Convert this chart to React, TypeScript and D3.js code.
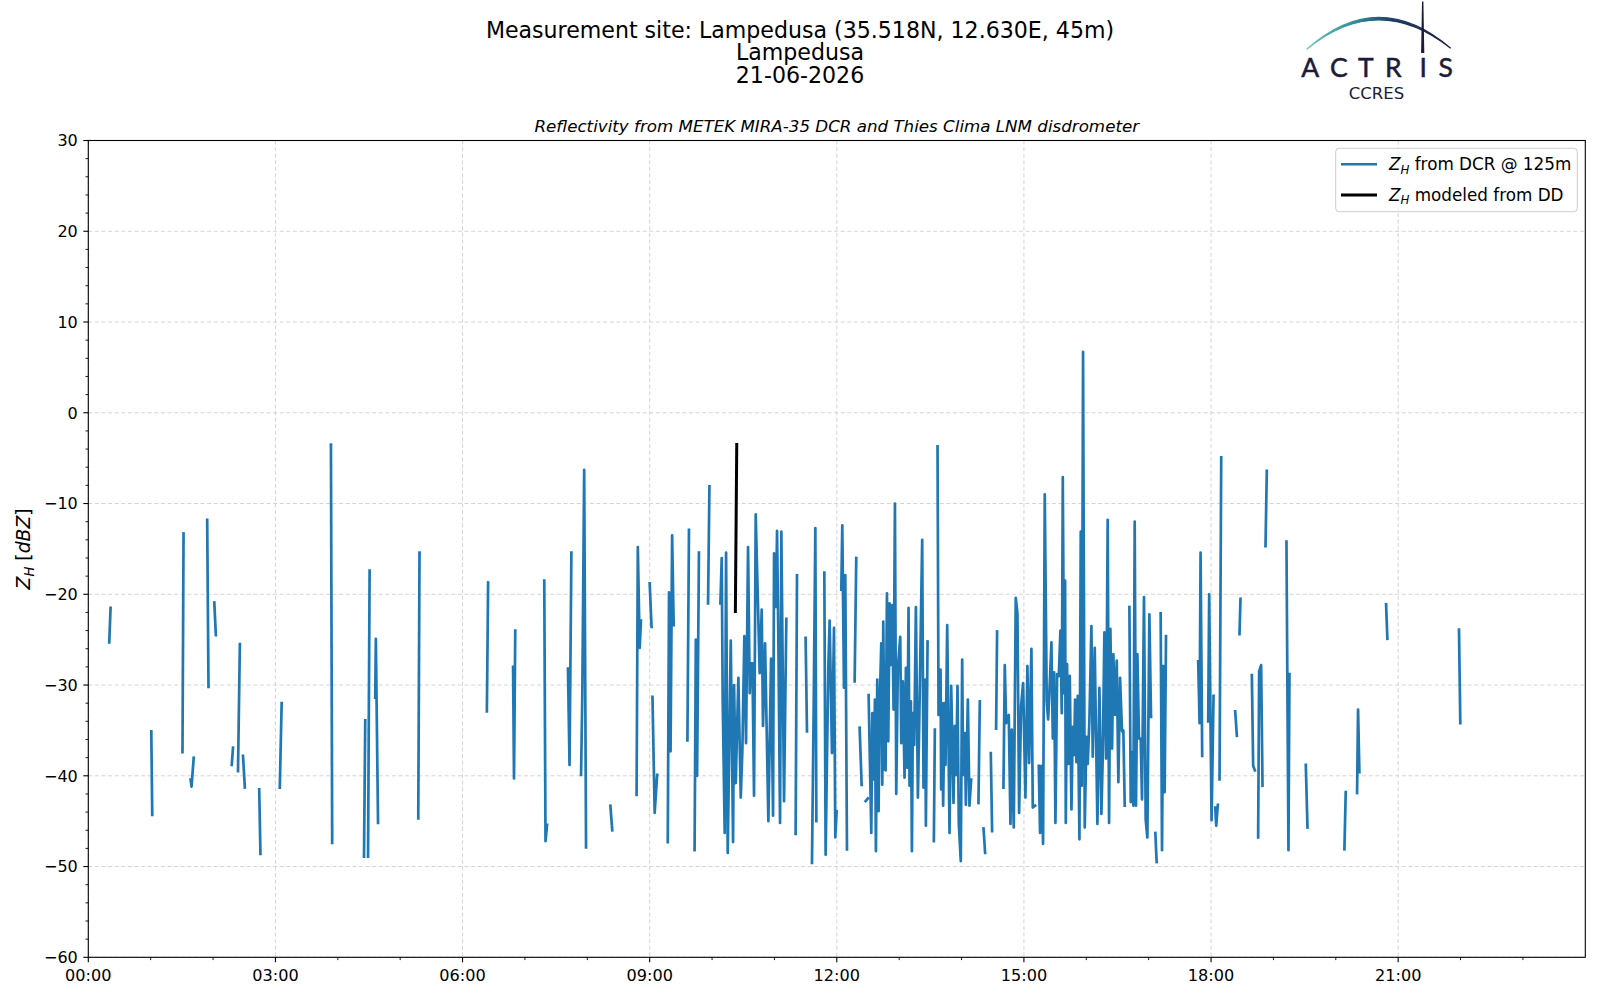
import { useMemo } from "react";
import * as d3 from "d3";

const WIDTH = 1600;
const HEIGHT = 1000;
const MARGIN = { top: 140.5, right: 14.7, bottom: 42.7, left: 88.3 };
const FONT = "DejaVu Sans";
const BLUE = "#1f77b4";
const NAVY = "#1b1b3d";

const TITLE_LINES = [
  "Measurement site: Lampedusa (35.518N, 12.630E, 45m)",
  "Lampedusa",
  "21-06-2026",
];
const SUBTITLE = "Reflectivity from METEK MIRA-35 DCR and Thies Clima LNM disdrometer";

const X_TICK_HOURS = [0, 3, 6, 9, 12, 15, 18, 21];
const Y_DOMAIN: [number, number] = [-60, 30];

type Pt = [number, number]; // [hour of day, Z_H in dBZ]

// radar reflectivity @ 125m, split at each gap in the record
const NIGHT_SEGMENTS: Pt[][] = [
  [[0.336, -25.3], [0.357, -21.5]],
  [[1.01, -35.1], [1.025, -44.3]],
  [[1.51, -37.4], [1.527, -13.3]],
  [[1.64, -40.4], [1.655, -41.2], [1.69, -38.0]],
  [[1.906, -11.8], [1.927, -30.2]],
  [[2.02, -20.9], [2.045, -24.5]],
  [[2.3, -38.8], [2.32, -36.9]],
  [[2.4, -39.5], [2.43, -25.5]],
  [[2.48, -37.8], [2.51, -41.3]],
  [[2.74, -41.5], [2.76, -48.6]],
  [[3.07, -41.3], [3.1, -32.0]],
  [[3.89, -3.5], [3.91, -47.4]],
  [[4.42, -48.9], [4.44, -33.9]],
  [[4.485, -48.9], [4.51, -17.4]],
  [[4.6, -31.4], [4.61, -24.9], [4.645, -45.2]],
];

const MORNING_SEGMENTS: Pt[][] = [
  [[5.29, -44.7], [5.31, -15.4]],
  [[6.39, -32.9], [6.41, -18.7]],
  [[6.81, -28.0], [6.825, -40.3], [6.845, -24.0]],
  [[7.31, -18.5], [7.33, -47.2], [7.355, -45.4]],
  [[7.69, -28.2], [7.715, -38.8], [7.745, -15.4]],
  [[7.9, -39.9], [7.92, -31.1], [7.95, -6.3], [7.98, -47.9]],
  [[8.37, -43.3], [8.4, -46.0]],
  [[8.79, -42.1], [8.81, -14.8], [8.84, -25.9], [8.86, -22.9]],
  [[9.0, -18.8], [9.03, -23.6]],
  [[9.045, -31.3], [9.08, -44.1], [9.12, -39.9]],
  [[9.29, -47.3], [9.31, -19.8], [9.335, -37.3], [9.36, -13.5], [9.385, -23.4]],
  [[9.605, -36.1], [9.63, -12.9]],
  [[9.72, -48.2], [9.74, -25.0], [9.76, -40.0], [9.79, -15.4]],
  [[9.936, -21.0], [9.958, -8.1]],
];

const MIDDAY_SEGMENTS: Pt[][] = [
  [
    [10.134, -21.0], [10.155, -16.0], [10.171, -31.8], [10.203, -46.3], [10.225, -15.4],
    [10.251, -48.5], [10.3, -25.1], [10.337, -47.3], [10.353, -30.0], [10.38, -40.8],
    [10.422, -29.2], [10.46, -42.4], [10.486, -37.2], [10.518, -24.6], [10.545, -36.4],
    [10.577, -14.8], [10.604, -30.9], [10.62, -27.6], [10.647, -27.6], [10.673, -42.2],
    [10.7, -11.2], [10.764, -28.7], [10.796, -21.7], [10.817, -34.5], [10.85, -25.4],
    [10.903, -45.0], [10.946, -27.1], [10.978, -44.4], [10.994, -15.5], [11.026, -21.4],
    [11.042, -13.0], [11.063, -25.0], [11.09, -45.2], [11.111, -13.1], [11.154, -42.8],
    [11.191, -22.7],
  ],
  [[11.34, -46.4], [11.362, -17.9]],
  [[11.5, -24.8], [11.522, -35.1]],
  [[11.602, -49.6], [11.629, -32.7], [11.656, -12.7], [11.672, -45.0]],
  [
    [11.8, -17.6], [11.821, -48.7], [11.842, -38.4], [11.864, -28.1], [11.885, -22.9],
    [11.923, -37.5], [11.955, -23.7], [11.976, -46.8], [11.997, -43.9],
  ],
  [[12.072, -19.5], [12.088, -12.4], [12.115, -30.3], [12.136, -17.9], [12.163, -48.1]],
  [[12.286, -29.6], [12.312, -16.0]],
  [[12.366, -34.7], [12.398, -41.0]],
  [[12.462, -42.8], [12.499, -42.5]],
  [
    [12.51, -31.1], [12.553, -46.3], [12.569, -33.1], [12.595, -40.4], [12.611, -31.6],
    [12.627, -48.3], [12.649, -29.4], [12.67, -43.9], [12.686, -32.7], [12.713, -25.4],
    [12.729, -41.0], [12.745, -23.0], [12.766, -39.3], [12.782, -39.4], [12.804, -19.9],
    [12.825, -36.2], [12.846, -21.0], [12.862, -27.8], [12.889, -21.2], [12.91, -32.7],
    [12.932, -10.0], [12.953, -42.0], [12.979, -28.1], [13.017, -24.7], [13.033, -36.4],
    [13.059, -29.6], [13.086, -40.2], [13.108, -28.1], [13.129, -39.1], [13.15, -21.5],
    [13.166, -41.1], [13.188, -31.8], [13.204, -48.3], [13.22, -33.1], [13.241, -36.6],
    [13.268, -21.4], [13.3, -42.4], [13.321, -34.5], [13.369, -14.0], [13.39, -41.3],
    [13.417, -29.4], [13.428, -45.5], [13.455, -25.2],
  ],
  [[13.556, -47.2], [13.572, -34.9]],
  [
    [13.615, -3.7], [13.631, -33.3], [13.663, -28.3], [13.673, -41.5], [13.689, -32.0],
    [13.705, -43.3], [13.727, -32.0], [13.743, -38.8], [13.77, -23.4], [13.807, -46.3],
    [13.834, -30.1], [13.855, -37.5], [13.871, -43.0], [13.892, -34.5], [13.914, -39.9],
    [13.935, -30.1], [13.956, -45.3], [13.988, -49.4], [14.01, -27.2], [14.026, -39.9],
    [14.053, -35.3], [14.069, -43.2], [14.101, -31.6], [14.127, -43.3], [14.154, -40.4],
  ],
  [[14.271, -43.0], [14.293, -31.8]],
  [[14.352, -45.8], [14.378, -48.5]],
  [[14.469, -37.5], [14.49, -46.1]],
  [[14.554, -34.8], [14.57, -24.1]],
];

const AFTERNOON_SEGMENTS: Pt[][] = [
  [
    [14.672, -41.3], [14.693, -27.8], [14.715, -34.2], [14.757, -33.3], [14.784, -45.3],
    [14.805, -34.9], [14.837, -45.7], [14.869, -20.4], [14.896, -22.1], [14.923, -44.1],
    [14.955, -32.3], [14.987, -29.8], [15.024, -42.4], [15.056, -27.9], [15.083, -38.6],
    [15.12, -26.0], [15.142, -43.5], [15.179, -43.3],
  ],
  [
    [15.238, -38.9], [15.259, -46.3], [15.281, -38.9], [15.307, -47.5], [15.334, -9.0],
    [15.366, -31.8], [15.388, -33.8], [15.409, -30.7], [15.441, -25.3], [15.463, -35.9],
    [15.484, -28.6], [15.505, -45.2], [15.532, -28.8], [15.559, -29.0], [15.585, -24.0],
    [15.607, -33.1], [15.623, -7.1], [15.644, -30.9], [15.66, -18.5], [15.671, -45.2],
    [15.692, -27.7], [15.713, -38.7], [15.735, -29.0], [15.762, -43.7], [15.783, -34.6],
    [15.804, -37.7], [15.82, -31.6], [15.842, -38.5], [15.863, -31.2], [15.89, -47.0],
    [15.911, -13.1], [15.927, -41.1], [15.948, 6.7], [15.975, -45.7], [16.002, -35.7],
    [16.023, -38.7], [16.05, -33.8], [16.082, -23.5], [16.103, -37.9], [16.135, -25.9],
    [16.157, -35.9], [16.178, -45.3], [16.21, -30.3], [16.242, -44.2], [16.263, -38.1],
    [16.29, -24.2], [16.317, -38.1], [16.343, -11.8], [16.365, -45.2], [16.386, -23.8],
    [16.413, -37.0], [16.434, -26.6], [16.461, -33.3], [16.488, -27.3], [16.514, -40.7],
    [16.541, -29.2], [16.573, -35.1], [16.594, -35.0], [16.616, -43.3],
  ],
  [
    [16.691, -21.4], [16.712, -42.9], [16.728, -37.4], [16.755, -43.3], [16.776, -12.0],
    [16.797, -43.3], [16.819, -26.6], [16.845, -35.9], [16.872, -35.9], [16.893, -42.6],
    [16.925, -20.3], [16.952, -44.8], [16.979, -46.8], [17.011, -22.2], [17.038, -33.5],
  ],
  [[17.107, -46.3], [17.128, -49.5]],
  [[17.192, -22.1], [17.214, -48.2], [17.235, -27.9], [17.256, -41.8], [17.278, -24.6]],
];

const EVENING_SEGMENTS: Pt[][] = [
  [[17.794, -27.4], [17.816, -34.2], [17.832, -15.4], [17.858, -37.8]],
  [[17.954, -34.0], [17.97, -20.0], [18.008, -44.9], [18.04, -31.2]],
  [[18.067, -43.5], [18.083, -45.5], [18.109, -43.2]],
  [[18.136, -40.4], [18.163, -4.9]],
  [[18.387, -32.9], [18.414, -35.6]],
  [[18.456, -24.4], [18.472, -20.5]],
  [[18.654, -28.9], [18.675, -38.9], [18.702, -39.4]],
  [[18.755, -46.8], [18.771, -28.5], [18.803, -27.8], [18.825, -41.1]],
  [[18.873, -14.7], [18.894, -6.4]],
  [[19.209, -14.2], [19.241, -48.2], [19.257, -28.8]],
  [[19.519, -38.8], [19.546, -45.7]],
  [[20.138, -48.1], [20.159, -41.8]],
  [[20.341, -41.9], [20.357, -32.7], [20.378, -39.6]],
  [[20.806, -21.1], [20.827, -24.9]],
  [[21.975, -23.9], [21.996, -34.2]],
];

// reflectivity modeled from the disdrometer drop size distribution
const DD_SEGMENTS: Pt[][] = [[[10.374, -21.9], [10.396, -3.5]]];

const DCR_SEGMENTS = [
  ...NIGHT_SEGMENTS,
  ...MORNING_SEGMENTS,
  ...MIDDAY_SEGMENTS,
  ...AFTERNOON_SEGMENTS,
  ...EVENING_SEGMENTS,
];

const pad = (n: number) => String(n).padStart(2, "0");

const ZH = ({ x, y, rest }: { x: number; y: number; rest: string }) => (
  <text x={x} y={y} fontFamily={FONT} fontSize={16.8} fill="#000">
    <tspan fontStyle="italic">Z</tspan>
    <tspan fontStyle="italic" fontSize={11.8} dy={3.5}>
      H
    </tspan>
    <tspan dy={-3.5}>{rest}</tspan>
  </text>
);

const Logo = () => (
  <g>
    <defs>
      <linearGradient id="arcGrad" x1="1306" y1="0" x2="1451" y2="0" gradientUnits="userSpaceOnUse">
        <stop offset="0" stopColor="#6cc3bd" />
        <stop offset="0.35" stopColor="#2e8b98" />
        <stop offset="0.6" stopColor="#1d3c63" />
        <stop offset="1" stopColor={NAVY} />
      </linearGradient>
    </defs>
    <path
      d="M1306.7,49.3 Q1378,-14 1450.7,48.3 Q1378,-9 1306.7,49.3 Z"
      fill="url(#arcGrad)"
      stroke="url(#arcGrad)"
      strokeWidth={1.2}
    />
    <polygon points="1422,1.5 1423.4,1.5 1424.3,53 1421.1,53" fill={NAVY} />
    {[
      ["A", 1310.2],
      ["C", 1338.8],
      ["T", 1365.9],
      ["R", 1393.4],
      ["I", 1423.3],
      ["S", 1445.7],
    ].map(([ch, cx]) => (
      <text
        key={ch as string}
        x={cx as number}
        y={76.5}
        textAnchor="middle"
        fontFamily="Lato"
        fontSize={26.5}
        fill={NAVY}
        stroke={NAVY}
        strokeWidth={0.5}
      >
        {ch}
      </text>
    ))}
    <text x={1376.5} y={99.3} textAnchor="middle" fontFamily={FONT} fontSize={16.5} fill={NAVY}>
      CCRES
    </text>
  </g>
);

export default function App() {
  const boundsWidth = WIDTH - MARGIN.left - MARGIN.right;
  const boundsHeight = HEIGHT - MARGIN.top - MARGIN.bottom;

  const xScale = useMemo(
    () => d3.scaleLinear().domain([0, 24]).range([0, boundsWidth]),
    [boundsWidth]
  );
  const yScale = useMemo(
    () => d3.scaleLinear().domain(Y_DOMAIN).range([boundsHeight, 0]),
    [boundsHeight]
  );

  const line = d3
    .line<Pt>()
    .x((d) => xScale(d[0]))
    .y((d) => yScale(d[1]));

  const yTicks = yScale.ticks(9);
  const yMinor = d3.range(-60, 30.1, 2).filter((v) => v % 10 !== 0);
  const xMinor = d3.range(0, 25).filter((h) => h % 3 !== 0);
  const fmt = d3.format("d");

  return (
    <svg
      width={WIDTH}
      height={HEIGHT}
      style={{ position: "absolute", left: 0, top: 0, background: "#fff" }}
    >
      <rect width={WIDTH} height={HEIGHT} fill="#fff" />

      {TITLE_LINES.map((t, i) => (
        <text
          key={t}
          x={800}
          y={37.5 + i * 22.5}
          textAnchor="middle"
          fontFamily={FONT}
          fontSize={22.1}
          fill="#000"
        >
          {t}
        </text>
      ))}
      <Logo />

      <g transform={`translate(${MARGIN.left},${MARGIN.top})`}>
        <text
          x={boundsWidth / 2}
          y={-9}
          textAnchor="middle"
          fontFamily={FONT}
          fontStyle="italic"
          fontSize={16.7}
          fill="#000"
        >
          {SUBTITLE}
        </text>

        {/* grid */}
        {yTicks.map((v) => (
          <line
            key={`gy${v}`}
            x1={0}
            x2={boundsWidth}
            y1={yScale(v)}
            y2={yScale(v)}
            stroke="#d4d4d4"
            strokeWidth={1}
            strokeDasharray="4,2.6"
          />
        ))}
        {X_TICK_HOURS.map((h) => (
          <line
            key={`gx${h}`}
            x1={xScale(h)}
            x2={xScale(h)}
            y1={0}
            y2={boundsHeight}
            stroke="#d4d4d4"
            strokeWidth={1}
            strokeDasharray="4,2.6"
          />
        ))}

        {/* data */}
        <g fill="none" strokeLinejoin="round" strokeLinecap="square">
          {DCR_SEGMENTS.map((seg, i) => (
            <path key={`dcr${i}`} d={line(seg) ?? ""} stroke={BLUE} strokeWidth={2.7} />
          ))}
          {DD_SEGMENTS.map((seg, i) => (
            <path key={`dd${i}`} d={line(seg) ?? ""} stroke="#000" strokeWidth={3} />
          ))}
        </g>

        {/* spines */}
        <rect
          x={0}
          y={0}
          width={boundsWidth}
          height={boundsHeight}
          fill="none"
          stroke="#000"
          strokeWidth={1.1}
        />

        {/* y axis */}
        {yTicks.map((v) => (
          <g key={`ty${v}`} transform={`translate(0,${yScale(v)})`}>
            <line x1={-5} x2={0} stroke="#000" strokeWidth={1.1} />
            <text
              x={-10.5}
              dy="0.36em"
              textAnchor="end"
              fontFamily={FONT}
              fontSize={16}
              fill="#000"
            >
              {fmt(v)}
            </text>
          </g>
        ))}
        {yMinor.map((v) => (
          <line
            key={`my${v}`}
            x1={-2.8}
            x2={0}
            y1={yScale(v)}
            y2={yScale(v)}
            stroke="#000"
            strokeWidth={0.9}
          />
        ))}

        {/* x axis */}
        {X_TICK_HOURS.map((h) => (
          <g key={`tx${h}`} transform={`translate(${xScale(h)},${boundsHeight})`}>
            <line y1={0} y2={5} stroke="#000" strokeWidth={1.1} />
            <text
              y={23.9}
              textAnchor="middle"
              fontFamily={FONT}
              fontSize={16.1}
              fill="#000"
            >
              {`${pad(h)}:00`}
            </text>
          </g>
        ))}
        {xMinor.map((h) => (
          <line
            key={`mx${h}`}
            x1={xScale(h)}
            x2={xScale(h)}
            y1={boundsHeight}
            y2={boundsHeight + 2.8}
            stroke="#000"
            strokeWidth={0.9}
          />
        ))}
      </g>

      {/* y label */}
      <text
        transform={`translate(29.5,${MARGIN.top + boundsHeight / 2}) rotate(-90)`}
        textAnchor="middle"
        fontFamily={FONT}
        fontSize={18.8}
        fill="#000"
      >
        <tspan fontStyle="italic">Z</tspan>
        <tspan fontStyle="italic" fontSize={13.2} dy={4}>
          H
        </tspan>
        <tspan dy={-4}> [</tspan>
        <tspan fontStyle="italic">dBZ</tspan>
        <tspan>]</tspan>
      </text>

      {/* legend */}
      <g>
        <rect
          x={1335.7}
          y={148.3}
          width={241.6}
          height={63.4}
          rx={3.5}
          fill="#fff"
          fillOpacity={0.8}
          stroke="#cccccc"
          strokeWidth={1}
        />
        <line x1={1341} x2={1377} y1={164.3} y2={164.3} stroke={BLUE} strokeWidth={2.6} />
        <line x1={1341} x2={1377} y1={195} y2={195} stroke="#000" strokeWidth={2.8} />
        <ZH x={1389} y={170.2} rest=" from DCR @ 125m" />
        <ZH x={1389} y={200.9} rest=" modeled from DD" />
      </g>
    </svg>
  );
}
